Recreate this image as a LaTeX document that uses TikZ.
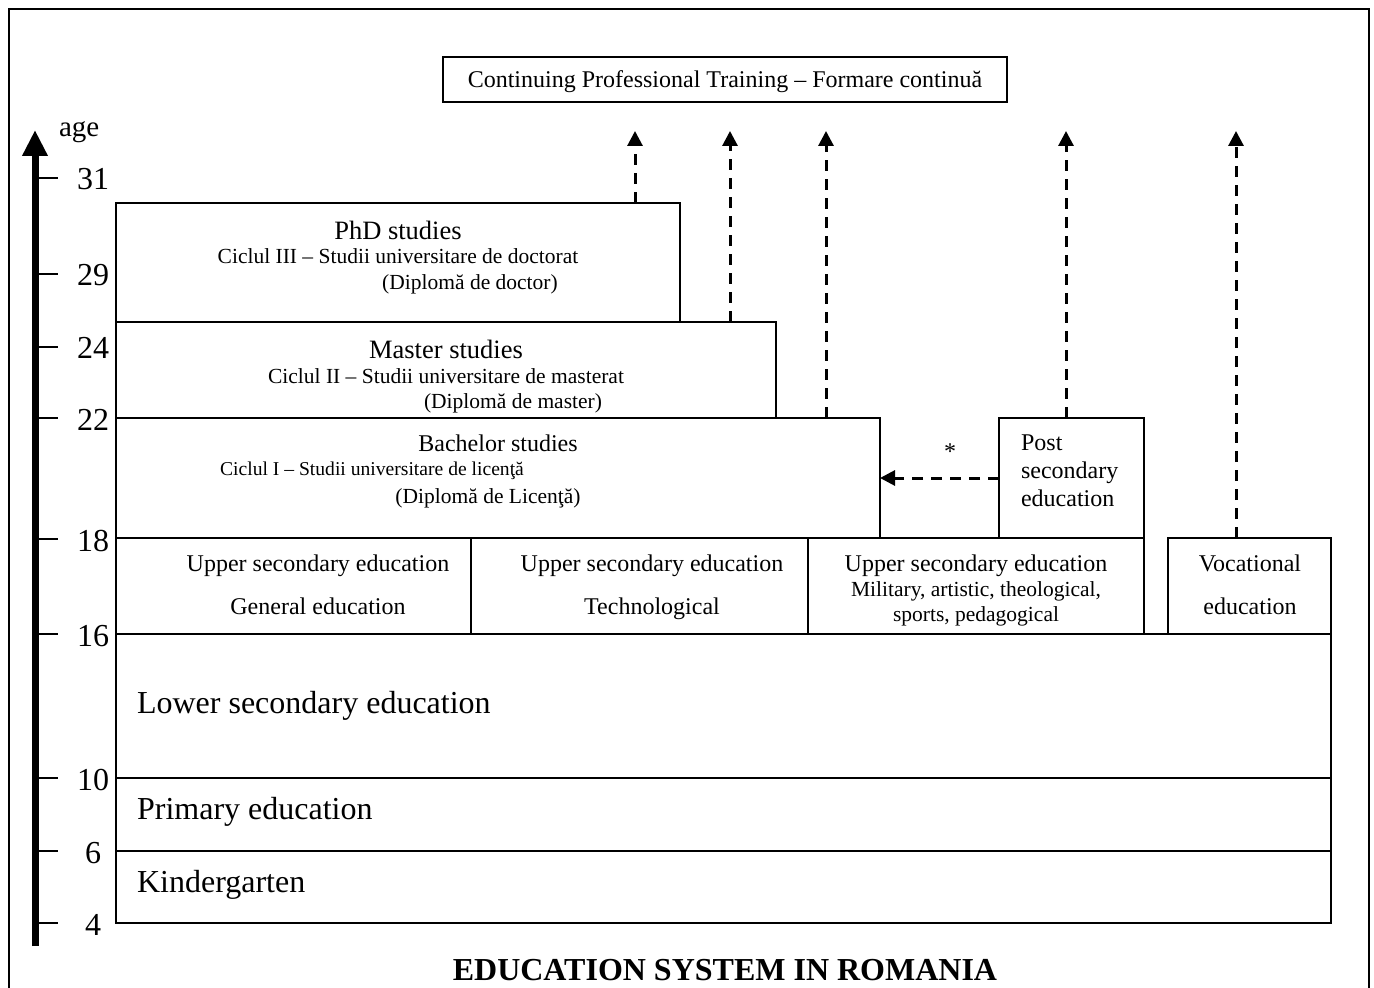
\documentclass[tikz,border=0pt]{standalone}
\usepackage{fontspec}
\setmainfont{Liberation Serif}
\usetikzlibrary{arrows.meta}

\def\u{0.5pt}

\begin{document}
\begin{tikzpicture}[x=0.5pt, y=-0.5pt,
    box/.style = {draw, line width=1pt, inner sep=0pt, outer sep=0pt, anchor=north west},
    big/.style = {font=\fontsize{16}{19}\selectfont, text height=11pt, text depth=0pt},
    head/.style = {font=\fontsize{13.25}{16}\selectfont, text height=9.1pt, text depth=0pt},
    mid/.style = {font=\fontsize{12}{14}\selectfont, text height=8.3pt, text depth=0pt},
    small/.style = {font=\fontsize{10.75}{13}\selectfont, text height=7.4pt, text depth=0pt},
    tiny/.style = {font=\fontsize{9.8}{12}\selectfont, text height=6.8pt, text depth=0pt},
    tick/.style = {line width=1pt},
    link/.style = {line width=1.5pt, dash pattern=on 5.5pt off 4pt, -{Triangle[length=7.5pt, width=7.5pt]}}]
    \useasboundingbox (0,0) rectangle (1374,988);
    % frame
    \draw[line width=0.75pt] (9,995) -- (9,9) -- (1369,9) -- (1369,995);

    % age axis
    \coordinate (a0) at (35,946);
    \coordinate (a1) at (35,130);
    \draw[line width=3.5pt, -{Triangle[length=13pt, width=12pt]}] (a0) -- (a1);
    \node[font=\fontsize{14.5}{17}\selectfont, anchor=base west] (age) at (52,137) {age};
    \foreach \y/\n in {178/31, 274/29, 347/24, 418/22, 539/18, 634/16, 778/10, 851/6, 923/4} {
        \draw[tick] (38,\y) -- (58,\y);
        \node[big] (n\n) at (93,\y+1) {\n};
    }

    % boxes
    \node[box, minimum width=564*\u, minimum height=119*\u] (phd) at (116,203) {};
    \node[box, minimum width=660*\u, minimum height=96*\u] (master) at (116,322) {};
    \node[box, minimum width=764*\u, minimum height=120*\u] (bach) at (116,418) {};
    \node[box, minimum width=145*\u, minimum height=120*\u] (post) at (999,418) {};
    \node[box, minimum width=355*\u, minimum height=96*\u] (gen) at (116,538) {};
    \node[box, minimum width=337*\u, minimum height=96*\u] (tech) at (471,538) {};
    \node[box, minimum width=336*\u, minimum height=96*\u] (mil) at (808,538) {};
    \node[box, minimum width=163*\u, minimum height=96*\u] (voc) at (1168,538) {};
    \node[box, minimum width=1215*\u, minimum height=144*\u] (lower) at (116,634) {};
    \node[box, minimum width=1215*\u, minimum height=73*\u] (prim) at (116,778) {};
    \node[box, minimum width=1215*\u, minimum height=72*\u] (kind) at (116,851) {};
    \node[box, minimum width=564*\u, minimum height=45*\u] (cont) at (443,57) {};

    % texts
    \node[mid] (contT) at (cont.center) {Continuing Professional Training -- Formare continuă};
    \node[head] (phdA) at (398,230) {PhD studies};
    \node[small] (phdB) at (398,256) {Ciclul III -- Studii universitare de doctorat};
    \node[small] (phdC) at (470,282) {(Diplomă de doctor)};
    \node[head] (masA) at (446,349) {Master studies};
    \node[small] (masB) at (446,376) {Ciclul II -- Studii universitare de masterat};
    \node[small] (masC) at (513,401) {(Diplomă de master)};
    \node[mid] (bacA) at (498,443) {Bachelor studies};
    \node[tiny] (bacB) at (372,469) {Ciclul I -- Studii universitare de licenţă};
    \node[small] (bacC) at (488,496) {(Diplomă de Licenţă)};
    \node[font=\fontsize{12}{14}\selectfont, anchor=west, align=left] (postT) at (1014,471) {Post\\secondary\\education};
    \node[mid] (genA) at (318,563) {Upper secondary education};
    \node[mid] (genB) at (318,606) {General education};
    \node[mid] (techA) at (652,563) {Upper secondary education};
    \node[mid] (techB) at (652,606) {Technological};
    \node[mid] (milA) at (976,563) {Upper secondary education};
    \node[small] (milB) at (976,589) {Military, artistic, theological,};
    \node[small] (milC) at (976,614) {sports, pedagogical};
    \node[mid] (vocA) at (1250,563) {Vocational};
    \node[mid] (vocB) at (1250,606) {education};
    \node[big, anchor=west] (lowT) at (130,702) {Lower secondary education};
    \node[big, anchor=west] (primT) at (130,808) {Primary education};
    \node[big, anchor=west] (kindT) at (130,881) {Kindergarten};
    \node[font=\fontsize{16}{19}\selectfont\bfseries] (title) at (725,970) {EDUCATION SYSTEM IN ROMANIA};

    % links to continuing training
    \coordinate (t1) at (635,131);
    \coordinate (t2) at (730,131);
    \coordinate (t3) at (826,131);
    \coordinate (t4) at (1066,131);
    \coordinate (t5) at (1236,131);
    \draw[link] (t1 |- phd.north) -- (t1);
    \draw[link] (t2 |- master.north) -- (t2);
    \draw[link] (t3 |- bach.north) -- (t3);
    \draw[link] (t4 |- post.north) -- (t4);
    \draw[link] (t5 |- voc.north) -- (t5);
    \draw[link] (post.west |- 0,478) -- node[pos=0.41, above=5pt, mid] {*} (bach.east |- 0,478);
\end{tikzpicture}
\end{document}
